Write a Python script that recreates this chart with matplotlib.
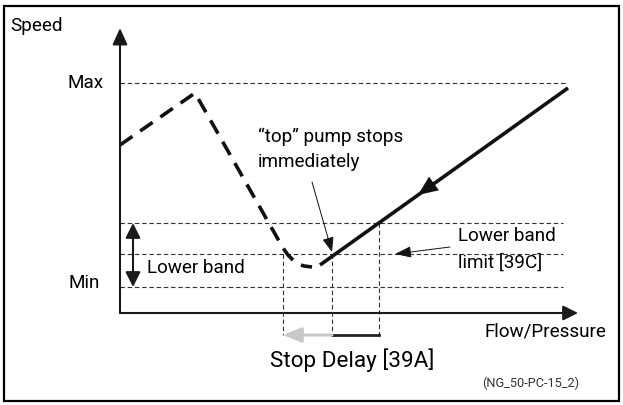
import matplotlib.pyplot as plt
from matplotlib.patches import Rectangle

plt.rcParams['font.family'] = ['Roboto', 'DejaVu Sans']

# speed levels (origin at the axis corner)
level_max = 230
level_band_top = 90
level_band_limit = 59
level_min = 26

# "top" pump speed while flow falls (dashed) and after the stop (solid)
fall_x = [0, 75, 163, 168, 173, 178, 184, 192]
fall_y = [168, 220, 65, 58, 53, 49, 47, 46]
run_x = [200, 448]
run_y = [48, 225]

# stop delay window on the flow axis
delay_start = 163
delay_mid = 212
delay_end = 259
delay_y = -22

fig = plt.figure(figsize=(6.23, 4.05), dpi=100)
ax = fig.add_axes([0, 0, 1, 1])
ax.set_xlim(-120, 503)
ax.set_ylim(-92, 313)
ax.axis('off')

# outer frame
ax.add_patch(Rectangle((-116, -88), 615, 395, fill=False, lw=1.6, ec='black'))


def arrow(tip, tail, style, lw, color='#1a1a1a'):
    ax.annotate('', xy=tip, xytext=tail,
                arrowprops=dict(arrowstyle=style, lw=lw, color=color,
                                mutation_scale=1, shrinkA=0, shrinkB=0))


# axes with arrow heads
arrow((458, 0), (0, 0), '-|>,head_length=9,head_width=4.5', 1.5)
arrow((0, 285), (0, 0), '-|>,head_length=10,head_width=4.5', 1.5)

# dashed reference levels
grid = dict(color='#333333', lw=0.8, ls=(0, (4, 2.5)))
ax.plot([0, 445], [level_max, level_max], **grid)
for lv in (level_band_top, level_band_limit, level_min):
    ax.plot([0, 443], [lv, lv], **grid)
ax.plot([delay_start, delay_start], [level_band_limit, delay_y], **grid)
ax.plot([delay_mid, delay_mid], [level_band_limit, delay_y], **grid)
ax.plot([delay_end, delay_end], [level_band_top, delay_y], **grid)

# lower band double arrow
arrow((13, level_band_top), (13, level_min), '<|-|>,head_length=9,head_width=4.5', 1.5)

# speed curves
ax.plot(fall_x, fall_y, color='#111111', lw=2.6, ls=(0, (4.2, 2.6)), dash_capstyle='butt')
ax.plot(run_x, run_y, color='#111111', lw=2.6, solid_capstyle='butt')
arrow((298, 118), (316, 131), '-|>,head_length=14,head_width=6', 0.1, '#111111')

# stop delay bar
ax.plot([delay_mid, delay_end], [delay_y, delay_y], color='#222222', lw=2)
arrow((delay_start, delay_y), (delay_mid, delay_y), '-|>,head_length=11,head_width=4.5', 2.2, '#c8c8c8')

# pointers
arrow((212, 61), (192, 131), '-|>,head_length=9,head_width=3.5', 0.7, '#111111')
arrow((275, 59), (330, 66), '-|>,head_length=10,head_width=3.5', 0.7, '#111111')

fs = 13.6
ax.text(-110, 287, 'Speed', fontsize=fs, va='center', ha='left')
ax.text(-16, level_max, 'Max', fontsize=fs, va='center', ha='right')
ax.text(-20, 30, 'Min', fontsize=fs, va='center', ha='right')
ax.text(27, 45, 'Lower band', fontsize=fs, va='center', ha='left')
ax.text(138, 176, '\u201ctop\u201d pump stops', fontsize=fs, va='center', ha='left')
ax.text(138, 151, 'immediately', fontsize=fs, va='center', ha='left')
ax.text(338, 77, 'Lower band', fontsize=fs, va='center', ha='left')
ax.text(338, 50, 'limit [39C]', fontsize=fs, va='center', ha='left')
ax.text(364, -19, 'Flow/Pressure', fontsize=fs, va='center', ha='left')
ax.text(150, -47, 'Stop Delay [39A]', fontsize=16.2, va='center', ha='left')
ax.text(362, -70, '(NG_50-PC-15_2)', fontsize=9.2, va='center', ha='left', color='#333333')

fig.savefig('out.png', dpi=100)
